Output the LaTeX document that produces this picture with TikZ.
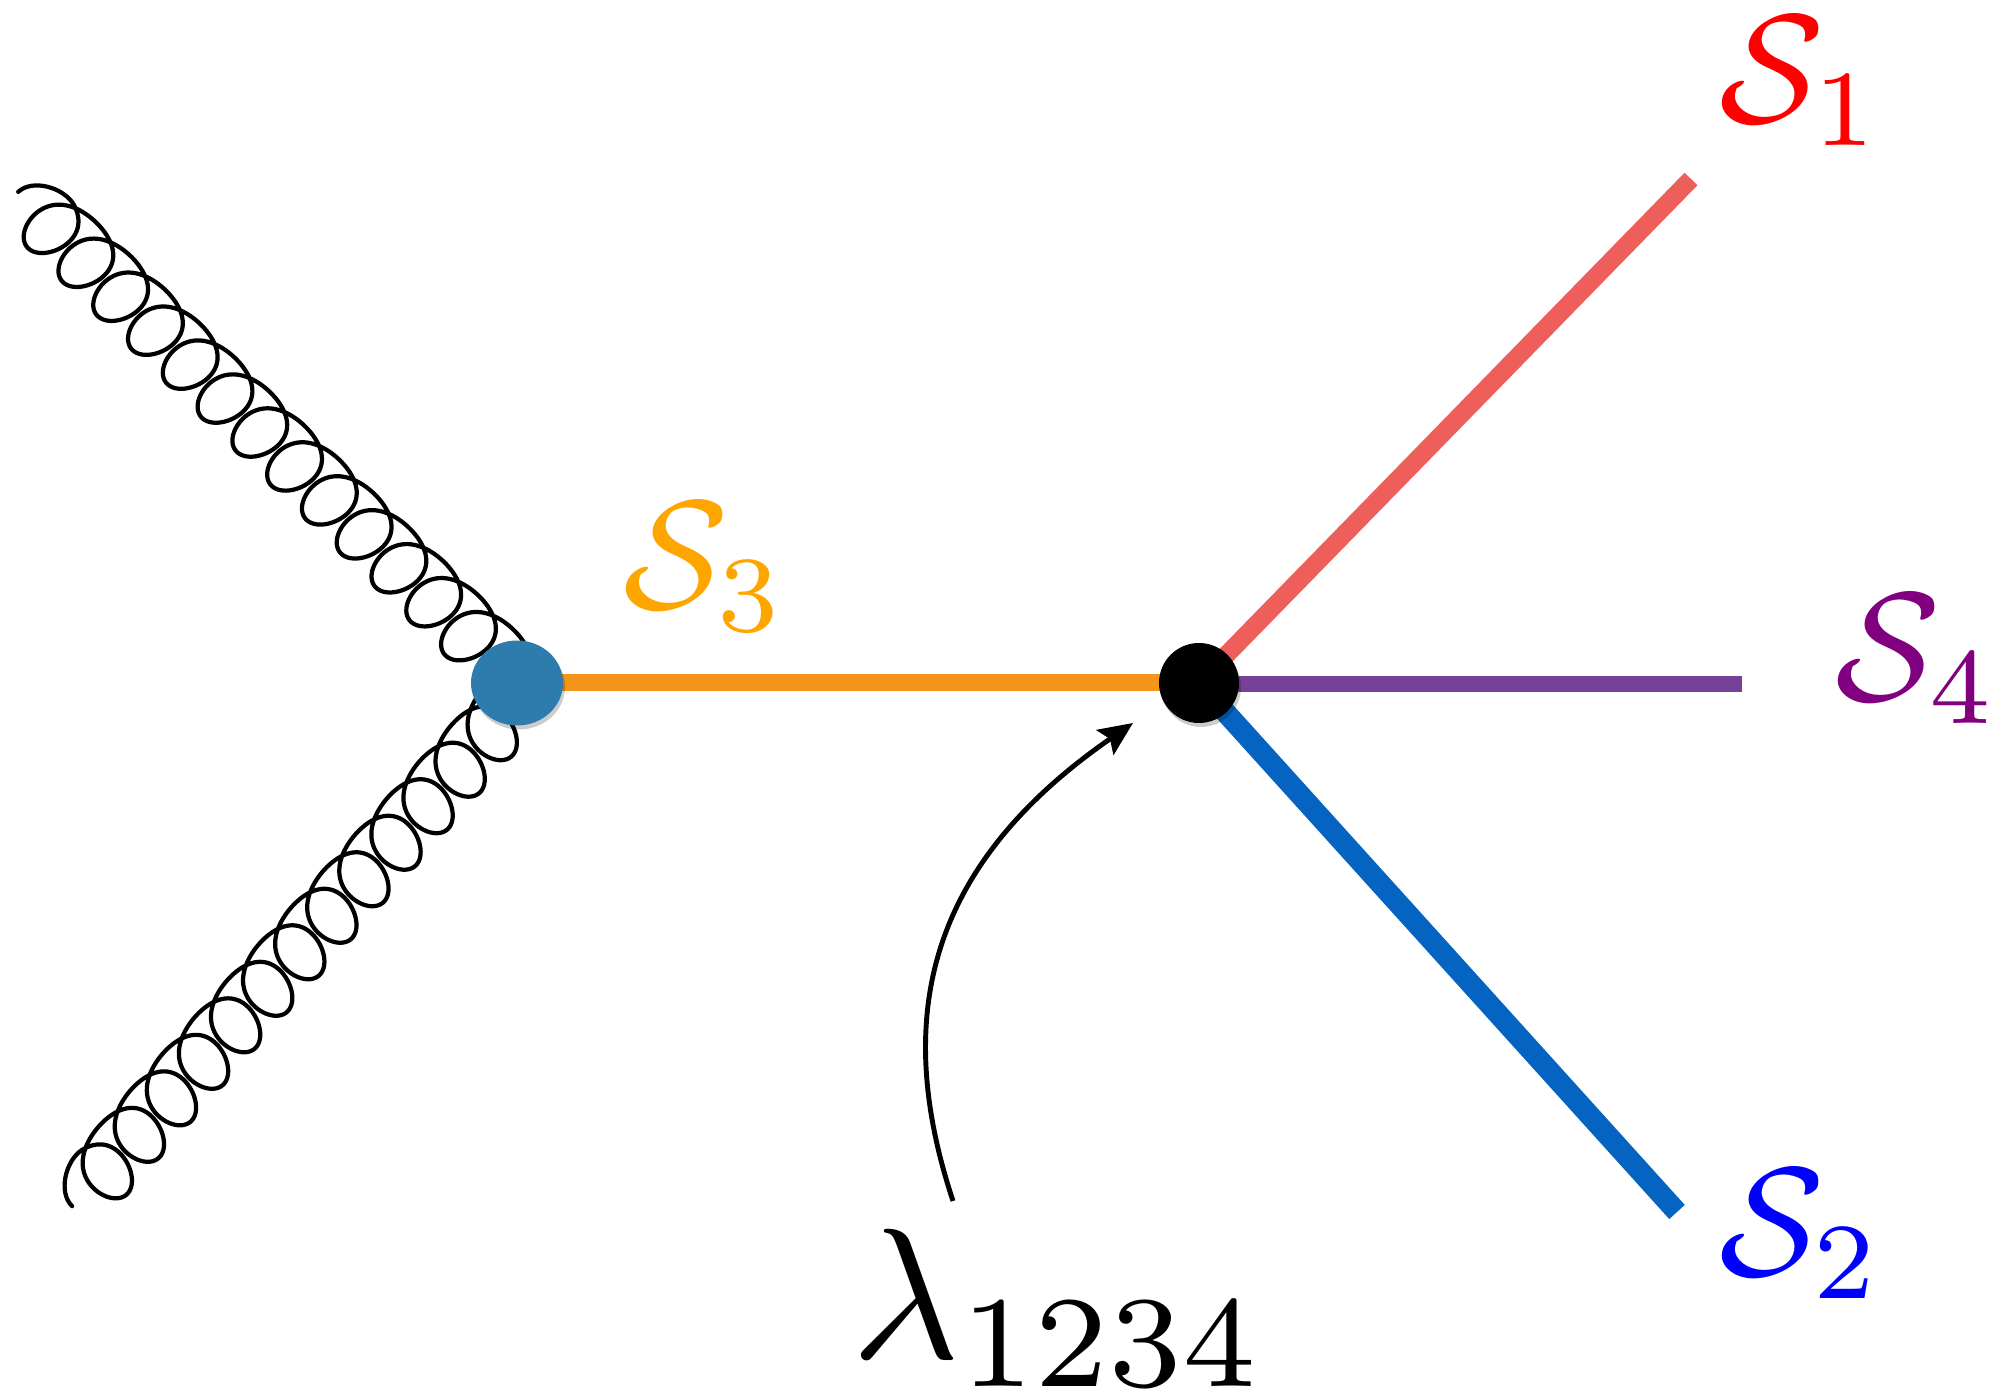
\documentclass[tikz,border=0pt]{standalone}
\usepackage{amsmath, amssymb}
\usepackage{xcolor}
\usetikzlibrary{arrows.meta, shadows, shapes.geometric, backgrounds}
\definecolor{blobcolor}{HTML}{2E7BAE}
\definecolor{scalarone}{HTML}{EE5F5B}
\definecolor{scalartwo}{HTML}{0563C1}
\definecolor{scalarthree}{HTML}{F39519}
\definecolor{scalarfour}{HTML}{774099}
\definecolor{labelorange}{HTML}{FFA500}
\definecolor{labelpurple}{HTML}{800080}
\tikzset{
  gluonline/.style={line width=1.2pt, line cap=round, line join=round},
  softshadow/.style={drop shadow={shadow xshift=0.02cm, shadow yshift=-0.04cm, opacity=0.2, fill=black}},
  scalarlabel/.style={scale=4.4}
}
% coil from a named origin, rotated along its axis, ending in a node
\newcommand{\gluoncoil}[3]{
  \draw[gluonline, shift={(#1)}, rotate=#2, x=0.01cm, y=0.01cm] (-25,4.4) .. controls (-24,24) and (4,39) .. (23.1,34.3)
    -- plot[domain=0.5:82.68, samples=900, smooth, variable=\t] ({7.74*\t + 33*sin(\t r) + 0.1*(7 + 33*cos(\t r) - 3*cos(2*\t r))}, {7 + 33*cos(\t r) - 3*cos(2*\t r)})
    -- (#3.center);
}
\begin{document}
\begin{tikzpicture}
        \useasboundingbox (0,0) rectangle (20,13.97);
        % Vertices
        \node[ellipse, fill=blobcolor, minimum width=0.92cm, minimum height=0.85cm, inner sep=0pt, softshadow] (blob) at (5.17,7.14) {};
        \node[circle, fill=black, minimum size=0.8cm, inner sep=0pt, softshadow] (quartic) at (11.99,7.14) {};

        % Free ends
        \coordinate (gluonU) at (0.33,11.845);
        \coordinate (gluonL) at (0.919,2.067);
        \coordinate (endOne) at (16.91,12.18);
        \coordinate (endTwo) at (16.77,1.85);
        \coordinate (endFour) at (17.42,7.125);
        \coordinate (arrowFrom) at (9.53,1.96);
        \coordinate (arrowTo) at (11.33,6.74);

        % Lines behind the vertices
        \begin{scope}[on background layer]
          \gluoncoil{gluonU}{-44.3}{blob}
          \gluoncoil{gluonL}{48.7}{blob}
          \draw[scalarthree, line width=1.7mm] (blob.center) -- (quartic.center);
          \draw[scalarone, line width=1.8mm] (quartic.center) -- (endOne);
          \draw[scalartwo, line width=2.1mm] (quartic.center) -- (endTwo);
          \draw[scalarfour, line width=1.6mm] (quartic.center |- endFour) -- (endFour);
        \end{scope}

        % Coupling arrow
        \draw[-{Stealth[length=0.34cm, width=0.3cm, inset=0.06cm]}, line width=1.4pt] (arrowFrom) .. controls (8.93,3.77) and (9.25,5.30) .. (arrowTo);

        % Labels
        \node[scalarlabel, red] (labelOne) at (18.01,13.16) {$\mathcal{S}_1$};
        \node[scalarlabel, blue] (labelTwo) at (18.01,1.63) {$\mathcal{S}_2$};
        \node[scalarlabel, labelorange] (labelThree) at (7.05,8.30) {$\mathcal{S}_3$};
        \node[scalarlabel, labelpurple] (labelFour) at (19.17,7.38) {$\mathcal{S}_4$};
        \node[scale=5.3] (labelCoupling) at (10.59,0.89) {$\lambda_{1234}$};
      \end{tikzpicture}
\end{document}
